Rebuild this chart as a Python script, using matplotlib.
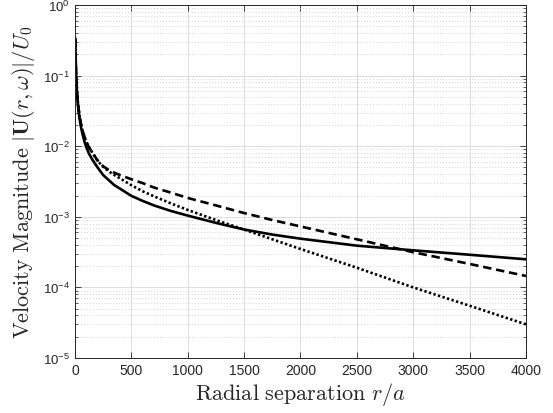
import math

import matplotlib
matplotlib.use('Agg')
import matplotlib.pyplot as plt
from matplotlib.ticker import FuncFormatter, LogLocator, NullFormatter

# values (r/a, |U|/U0)
r_sep = [3, 5, 10, 20, 30, 40, 55, 70, 85, 100, 125, 150, 200, 250, 300,
         350, 400, 500, 600, 700, 850, 1000, 1250, 1500, 1750, 2000, 2500,
         3000, 3500, 4000]
u_solid = [0.33, 0.2, 0.1, 0.05, 0.033, 0.025, 0.018, 0.0142, 0.0115,
           0.0097, 0.0078, 0.0066, 0.005, 0.0039, 0.0033, 0.0028, 0.0025,
           0.00198, 0.00168, 0.00145, 0.00121, 0.00104, 0.00082, 0.00066,
           0.00056, 0.00049, 0.00039, 0.000335, 0.00029, 0.00025]
u_dashed = [0.33, 0.2, 0.1, 0.052, 0.036, 0.027, 0.02, 0.016, 0.0135,
            0.0115, 0.0096, 0.0083, 0.0063, 0.0052, 0.0046, 0.0042, 0.0039,
            0.0034, 0.003, 0.0026, 0.0022, 0.00185, 0.00145, 0.00113,
            0.0009, 0.00073, 0.00048, 0.000315, 0.000215, 0.000145]
u_dotted = [0.33, 0.2, 0.1, 0.052, 0.036, 0.027, 0.02, 0.016, 0.0135,
            0.0115, 0.0096, 0.0083, 0.0062, 0.0051, 0.0044, 0.0039, 0.0035,
            0.0028, 0.0023, 0.00195, 0.00155, 0.00125, 0.0009, 0.00066,
            0.00048, 0.00035, 0.00019, 0.0001, 0.000055, 0.00003]

plt.rcParams['font.family'] = ['Liberation Sans', 'DejaVu Sans']
plt.rcParams['font.size'] = 10
plt.rcParams['mathtext.fontset'] = 'cm'

fig = plt.figure(figsize=(5.53, 4.14), dpi=100)
ax = fig.add_axes([0.1356, 0.1329, 0.8154, 0.8526])

ax.semilogy(r_sep, u_solid, color='k', lw=1.9, ls='-')
ax.semilogy(r_sep, u_dashed, color='k', lw=1.9, ls=(0, (3.2, 1.8)))
ax.semilogy(r_sep, u_dotted, color='k', lw=1.9, ls=(0, (0.9, 0.9)))

ax.set_xlim(0, 4000)
ax.set_ylim(1e-5, 1)
ax.set_xticks(range(0, 4001, 500))
ax.yaxis.set_major_locator(LogLocator(base=10, numticks=10))
ax.yaxis.set_minor_locator(LogLocator(base=10, subs=range(2, 10), numticks=20))
ax.yaxis.set_minor_formatter(NullFormatter())
ax.yaxis.set_major_formatter(FuncFormatter(lambda v, p: r'$\mathregular{10^{%d}}$' % round(math.log10(v))))

ax.grid(True, which='major', color='#dcdcdc', lw=0.7, ls='-')
ax.grid(True, which='minor', axis='y', color='#c4c4c4', lw=0.6, ls=(0, (1, 2.5)))
ax.set_axisbelow(True)

ax.tick_params(which='both', direction='in', top=True, right=True,
               colors='#262626', labelcolor='#262626')
ax.tick_params(which='major', length=4, width=0.6)
ax.tick_params(which='minor', length=2, width=0.5)
ax.tick_params(axis='y', labelsize=9.5)
for s in ax.spines.values():
    s.set_color('#262626')
    s.set_linewidth(0.7)

ax.set_xlabel(r'$\mathrm{Radial\ separation}\ r/a$', fontsize=16, color='#262626', labelpad=2)
ax.set_ylabel(r'$\mathrm{Velocity\ Magnitude}\ |\mathbf{U}(r,\omega)|/U_0$', fontsize=16,
              color='#262626', labelpad=4)

fig.savefig('out.png', dpi=100)
